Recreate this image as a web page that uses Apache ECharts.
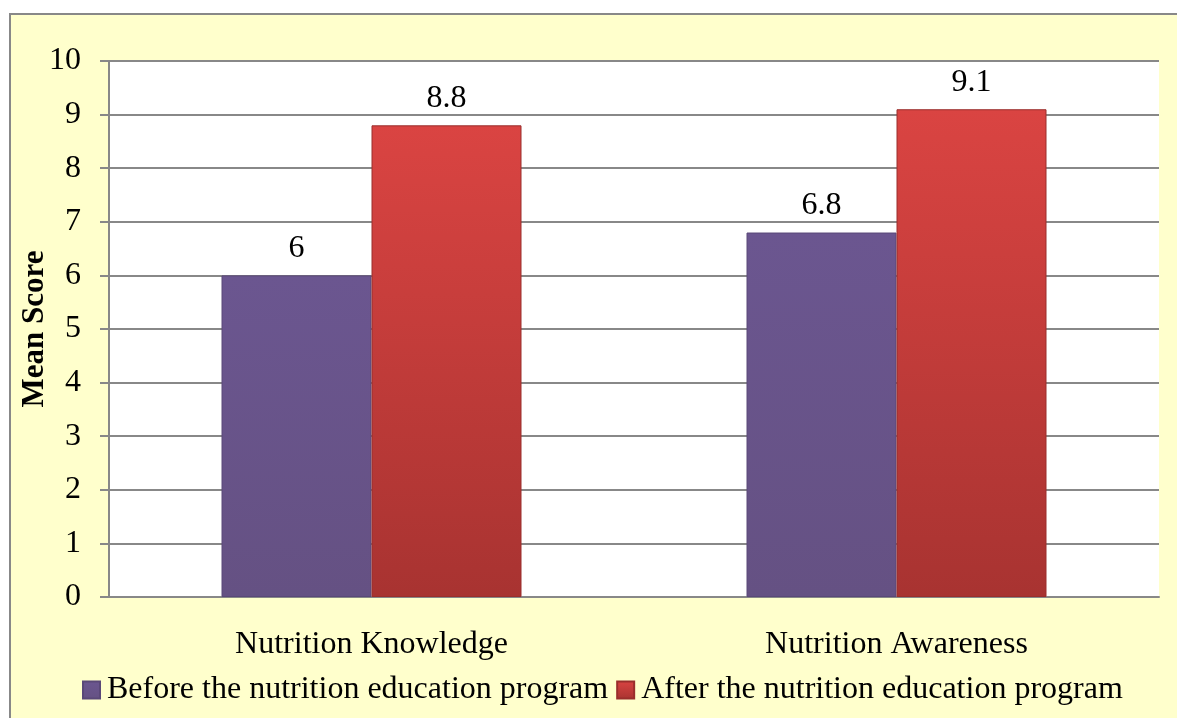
<!DOCTYPE html>
<html><head><meta charset="utf-8">
<script src="https://cdn.jsdelivr.net/npm/echarts@6/dist/echarts.min.js"></script>
<style>html,body{margin:0;padding:0;background:#fff;}#c{width:1177px;height:718px;}</style>
</head><body><div id="c"></div>
<script>
const categories = ['Nutrition Knowledge', 'Nutrition Awareness'];
const seriesNames = ['Before the nutrition education program', 'After the nutrition education program'];
const beforeValues = [6, 6.8];
const afterValues = [8.8, 9.1];
const yTicks = [0,1,2,3,4,5,6,7,8,9,10];

const font = '"Liberation Serif", "Times New Roman", serif';
const purple = new echarts.graphic.LinearGradient(0,0,0,1,[{offset:0,color:'#6b5690'},{offset:1,color:'#655183'}]);
const red = new echarts.graphic.LinearGradient(0,0,0,1,[{offset:0,color:'#da4442'},{offset:1,color:'#a83331'}]);

const chart = echarts.init(document.getElementById('c'));
chart.setOption({
  animation:false,
  backgroundColor:'#ffffff',
  graphic:[{type:'rect',left:9,top:13,shape:{width:1200,height:720},style:{fill:'#ffffcc',stroke:'#888888',lineWidth:2},z:-10}],
  grid:{left:109,right:18,top:61,bottom:121,show:true,backgroundColor:'#ffffff',borderWidth:0,containLabel:false,outerBoundsMode:'none'},
  legend:{top:674,left:82,padding:0,itemWidth:17,itemHeight:17,itemGap:8,icon:'rect',
    textStyle:{fontFamily:font,fontSize:32,color:'#000',padding:[0,0,0,2]},
    data:seriesNames},
  xAxis:{type:'category',data:categories,
    axisLine:{lineStyle:{color:'#888',width:2}},axisTick:{show:false},
    axisLabel:{fontFamily:font,fontSize:32,color:'#000',margin:32}},
  yAxis:{type:'value',min:0,max:10,interval:1,
    name:'Mean Score',nameLocation:'middle',nameGap:59,nameRotate:90,nameMoveOverlap:false,
    nameTextStyle:{fontFamily:font,fontSize:31,fontWeight:'bold',color:'#000'},
    axisLine:{show:true,lineStyle:{color:'#888',width:2}},
    axisTick:{show:true,length:9,lineStyle:{color:'#888',width:2}},
    splitLine:{lineStyle:{color:'#888',width:2}},
    axisLabel:{fontFamily:font,fontSize:32,color:'#000',margin:28,formatter:v=>yTicks.includes(v)?String(v):''}},
  series:[
    {name:seriesNames[0],type:'bar',data:beforeValues,barWidth:150,barGap:'0%',
     itemStyle:{color:purple,borderColor:'#5a4878',borderWidth:1},
     label:{show:true,position:'top',distance:11,fontFamily:font,fontSize:32,color:'#000'}},
    {name:seriesNames[1],type:'bar',data:afterValues,barWidth:150,
     itemStyle:{color:red,borderColor:'#9a2e2c',borderWidth:1},
     label:{show:true,position:'top',distance:11,fontFamily:font,fontSize:32,color:'#000'}}
  ]
});
</script></body></html>
